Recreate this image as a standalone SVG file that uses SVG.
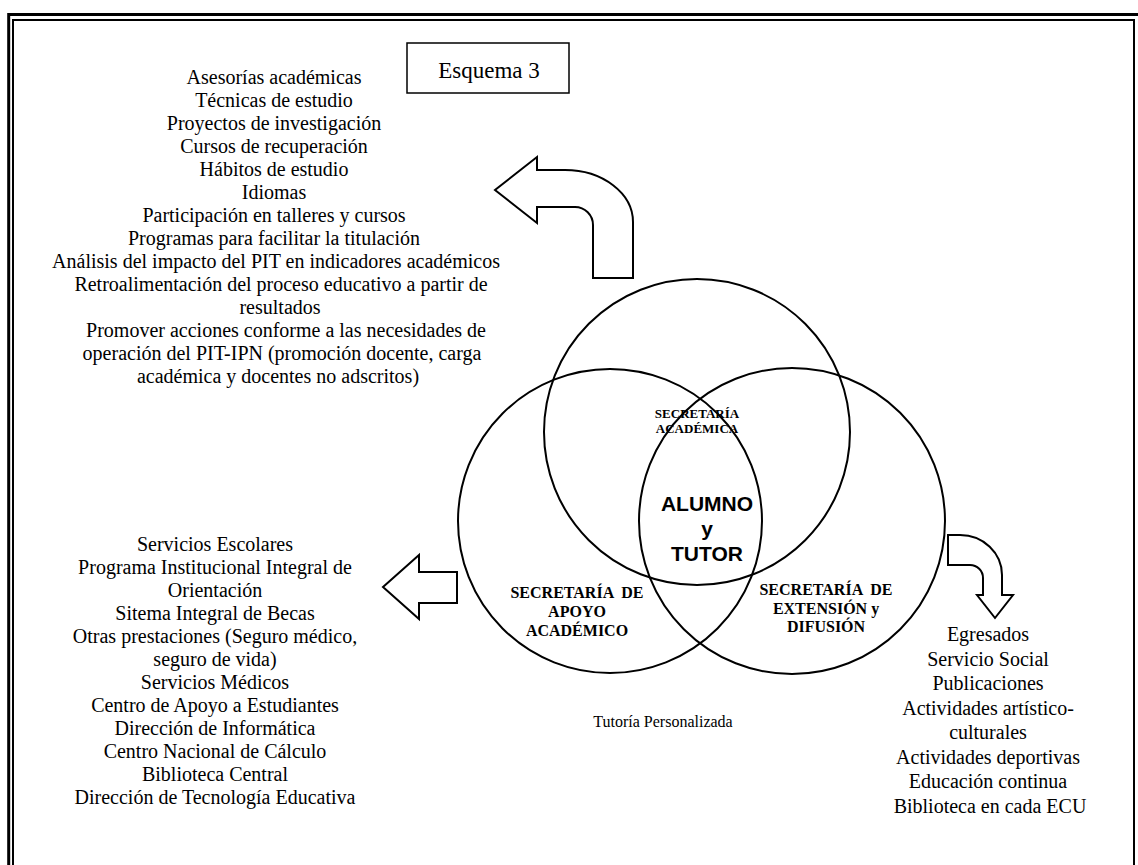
<svg xmlns="http://www.w3.org/2000/svg" width="1138" height="865" viewBox="0 0 1138 865">
<style>
.bg{fill:#fff}
.ln{fill:none;stroke:#000}
.shape{fill:#fff;stroke:#000;stroke-width:2;stroke-linejoin:miter}
.circ{fill:none;stroke:#000;stroke-width:2}
.t{font-family:"Liberation Serif","Times New Roman",serif;font-size:20px;fill:#000;text-anchor:middle}
.lab{font-family:"Liberation Serif","Times New Roman",serif;font-weight:bold;fill:#000;text-anchor:middle}
.core{font-family:"Liberation Sans",Arial,sans-serif;font-weight:bold;font-size:21px;fill:#000;text-anchor:middle}
</style>
<rect class="bg" x="0" y="0" width="1138" height="865"/>
<g id="border">
<path class="ln" stroke-width="3" d="M8.7,866 V14.4 H1140"/>
<path class="ln" stroke-width="2" d="M13,866 V20 H1134 V866"/>
</g>
<g id="title">
<rect x="407" y="43" width="162" height="50" fill="#fff" stroke="#000" stroke-width="1.5"/>
<text class="t" x="489" y="78" style="font-size:23px">Esquema 3</text>
</g>
<g id="circles">
<circle id="sec-academica" class="circ" cx="697" cy="432" r="153"/>
<circle id="sec-apoyo" class="circ" cx="610" cy="521" r="152"/>
<circle id="sec-extension" class="circ" cx="792" cy="521" r="153"/>
</g>
<g id="label-academica">
<text class="lab" x="697" y="418" font-size="13">SECRETARÍA</text>
<text class="lab" x="697" y="433" font-size="13">ACADÉMICA</text>
</g>
<g id="label-apoyo">
<text class="lab" x="577" y="598" font-size="16" word-spacing="4">SECRETARÍA DE</text>
<text class="lab" x="577" y="617" font-size="16">APOYO</text>
<text class="lab" x="577" y="636" font-size="16">ACADÉMICO</text>
</g>
<g id="label-extension">
<text class="lab" x="826" y="595" font-size="16" word-spacing="4">SECRETARÍA DE</text>
<text class="lab" x="826" y="614" font-size="16">EXTENSIÓN y</text>
<text class="lab" x="826" y="632" font-size="16">DIFUSIÓN</text>
</g>
<g id="center">
<text class="core" x="707" y="511">ALUMNO</text>
<text class="core" x="707" y="536">y</text>
<text class="core" x="707" y="561">TUTOR</text>
</g>
<g id="connectors">
<path class="shape" d="M537,170 L565,170 A68,52 0 0 1 633,222 L633,278 L593,278 L593,225 A18,18 0 0 0 575,207 L537,207 L537,223 L495,190 L537,157 Z"/>
<path class="shape" d="M457,572 L419,572 L419,555 L383,587 L419,619 L419,603 L457,603 Z"/>
<path class="shape" d="M948,535 L960,535 A42,40 0 0 1 1002,575 L1002,595 L1013,595 L995,618 L977,595 L983,595 L983,578 A13,13 0 0 0 970,565 L948,565 Z"/>
</g>
<g id="list-academica">
<text class="t" x="274" y="84">Asesorías académicas</text>
<text class="t" x="274" y="107">Técnicas de estudio</text>
<text class="t" x="274" y="130">Proyectos de investigación</text>
<text class="t" x="274" y="153">Cursos de recuperación</text>
<text class="t" x="274" y="176">Hábitos de estudio</text>
<text class="t" x="274" y="199">Idiomas</text>
<text class="t" x="274" y="222">Participación en talleres y cursos</text>
<text class="t" x="274" y="245">Programas para facilitar la titulación</text>
<text class="t" x="276" y="268">Análisis del impacto del PIT en indicadores académicos</text>
<text class="t" x="281" y="291">Retroalimentación del proceso educativo a partir de</text>
<text class="t" x="280" y="314">resultados</text>
<text class="t" x="286" y="337">Promover acciones conforme a las necesidades de</text>
<text class="t" x="282" y="360">operación del PIT-IPN (promoción docente, carga</text>
<text class="t" x="278" y="383">académica y docentes no adscritos)</text>
</g>
<g id="list-apoyo">
<text class="t" x="215" y="551">Servicios Escolares</text>
<text class="t" x="215" y="574">Programa Institucional Integral de</text>
<text class="t" x="215" y="597">Orientación</text>
<text class="t" x="215" y="620">Sitema Integral de Becas</text>
<text class="t" x="215" y="643">Otras prestaciones (Seguro médico,</text>
<text class="t" x="215" y="666">seguro de vida)</text>
<text class="t" x="215" y="689">Servicios Médicos</text>
<text class="t" x="215" y="712">Centro de Apoyo a Estudiantes</text>
<text class="t" x="215" y="735">Dirección de Informática</text>
<text class="t" x="215" y="758">Centro Nacional de Cálculo</text>
<text class="t" x="215" y="781">Biblioteca Central</text>
<text class="t" x="215" y="804">Dirección de Tecnología Educativa</text>
</g>
<g id="list-extension">
<text class="t" x="988" y="641">Egresados</text>
<text class="t" x="988" y="665.5">Servicio Social</text>
<text class="t" x="988" y="690">Publicaciones</text>
<text class="t" x="988" y="714.5">Actividades artístico-</text>
<text class="t" x="988" y="739">culturales</text>
<text class="t" x="988" y="763.5">Actividades deportivas</text>
<text class="t" x="988" y="788">Educación continua</text>
<text class="t" x="990" y="812.5">Biblioteca en cada ECU</text>
</g>
<g id="tutoria">
<text class="t" x="663" y="727" style="font-size:16px">Tutoría Personalizada</text>
</g>
</svg>
